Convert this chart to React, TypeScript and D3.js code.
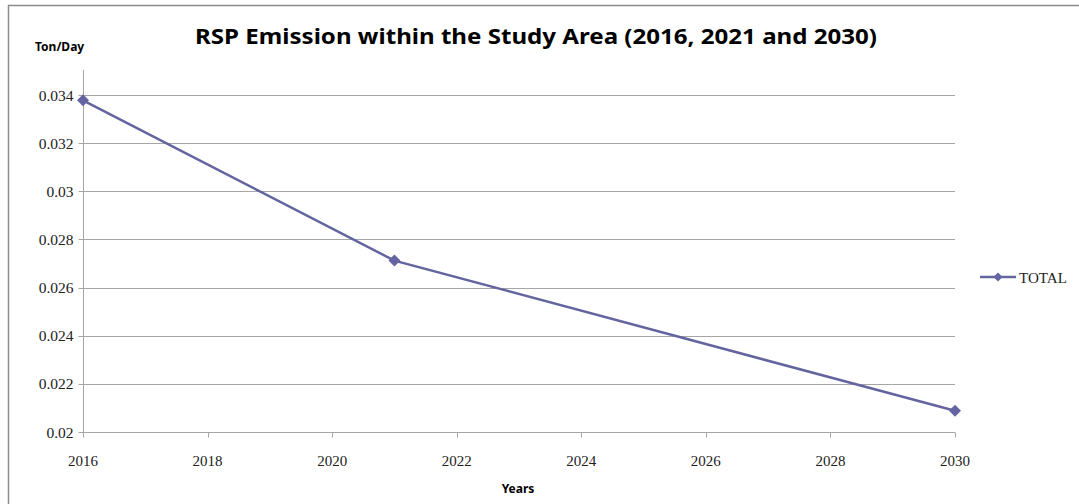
import { useEffect, useRef } from "react";
import * as d3 from "d3";

const years = [2016, 2021, 2030];
const totals = [0.03378, 0.02712, 0.02088];
const yTicks = [0.02, 0.022, 0.024, 0.026, 0.028, 0.03, 0.032, 0.034];
const xTicks = [2016, 2018, 2020, 2022, 2024, 2026, 2028, 2030];

const W = 1079;
const H = 504;
const LINE = "#6464a0";
const GRID = "#a6a6a6";

const App = () => {
  const svgRef = useRef<SVGSVGElement>(null);

  useEffect(() => {
    const svg = d3.select(svgRef.current);
    svg.selectAll("*").remove();

    const left = 83, right = 955, top = 70;
    const x = d3.scaleLinear().domain([2016, 2030]).range([left, right]);
    const y = d3.scaleLinear().domain([0.02, 0.034]).range([432, 95]);

    // outer chart frame (only top and left show in the picture)
    svg.append("path")
      .attr("d", `M8.5,${H} L8.5,5.5 L${W},5.5`)
      .attr("fill", "none")
      .attr("stroke", "#8c8c8c")
      .attr("stroke-width", 1.5);

    // grid lines
    svg.append("g")
      .selectAll("line")
      .data(yTicks.slice(1))
      .enter()
      .append("line")
      .attr("x1", left)
      .attr("x2", right)
      .attr("y1", (d) => Math.round(y(d)) + 0.5)
      .attr("y2", (d) => Math.round(y(d)) + 0.5)
      .attr("stroke", GRID);

    // y axis
    const ya = svg.append("g").attr("transform", `translate(${left + 0.5},0)`);
    ya.append("line").attr("y1", top).attr("y2", y(0.02)).attr("stroke", GRID);
    ya.selectAll("line.t")
      .data(yTicks)
      .enter()
      .append("line")
      .attr("class", "t")
      .attr("x1", -5)
      .attr("x2", 0)
      .attr("y1", (d) => Math.round(y(d)) + 0.5)
      .attr("y2", (d) => Math.round(y(d)) + 0.5)
      .attr("stroke", GRID);
    ya.selectAll("text")
      .data(yTicks)
      .enter()
      .append("text")
      .attr("x", -10)
      .attr("y", (d) => y(d) + 5.5)
      .attr("text-anchor", "end")
      .style("font-family", "'Liberation Serif', serif")
      .style("font-size", "15.5px")
      .attr("fill", "#222")
      .text((d) => String(+d.toFixed(3)));

    // x axis
    const xa = svg.append("g").attr("transform", `translate(0,${Math.round(y(0.02)) + 0.5})`);
    xa.append("line").attr("x1", left).attr("x2", right).attr("stroke", GRID);
    xa.selectAll("line.t")
      .data(xTicks)
      .enter()
      .append("line")
      .attr("class", "t")
      .attr("x1", (d) => Math.round(x(d)) + 0.5)
      .attr("x2", (d) => Math.round(x(d)) + 0.5)
      .attr("y1", 0)
      .attr("y2", 5)
      .attr("stroke", GRID);
    xa.selectAll("text")
      .data(xTicks)
      .enter()
      .append("text")
      .attr("x", (d) => x(d))
      .attr("y", 33)
      .attr("text-anchor", "middle")
      .style("font-family", "'Liberation Serif', serif")
      .style("font-size", "15.5px")
      .attr("textLength", 30)
      .attr("lengthAdjust", "spacingAndGlyphs")
      .attr("fill", "#222")
      .text((d) => d);

    // series line
    const pts = years.map((yr, i) => [yr, totals[i]] as [number, number]);
    svg.append("path")
      .datum(pts)
      .attr("fill", "none")
      .attr("stroke", LINE)
      .attr("stroke-width", 2.5)
      .attr("d", d3.line<[number, number]>().x((d) => x(d[0])).y((d) => y(d[1])));

    const diamond = d3.symbol().type(d3.symbolSquare).size(72);
    svg.selectAll("path.m")
      .data(pts)
      .enter()
      .append("path")
      .attr("class", "m")
      .attr("d", diamond)
      .attr("fill", LINE)
      .attr("transform", (d) => `translate(${x(d[0])},${y(d[1])}) rotate(45)`);

    // legend
    const lg = svg.append("g").attr("transform", "translate(980,277)");
    lg.append("line").attr("x1", 0).attr("x2", 36).attr("stroke", LINE).attr("stroke-width", 2.5);
    lg.append("path")
      .attr("d", d3.symbol().type(d3.symbolSquare).size(40))
      .attr("fill", LINE)
      .attr("transform", "translate(18,0) rotate(45)");
    lg.append("text")
      .attr("x", 39)
      .attr("y", 6)
      .style("font-family", "'Liberation Serif', serif")
      .style("font-size", "15.5px")
      .attr("textLength", 48)
      .attr("lengthAdjust", "spacingAndGlyphs")
      .attr("fill", "#222")
      .text("TOTAL");

    // titles
    svg.append("text")
      .attr("x", 536)
      .attr("y", 44)
      .attr("text-anchor", "middle")
      .style("font-family", "'Noto Sans', sans-serif")
      .style("font-weight", "bold")
      .style("font-size", "22px")
      .attr("textLength", 682)
      .attr("lengthAdjust", "spacingAndGlyphs")
      .attr("fill", "#000")
      .text("RSP Emission within the Study Area (2016, 2021 and 2030)");

    svg.append("text")
      .attr("x", 35)
      .attr("y", 51)
      .style("font-family", "'Noto Sans', sans-serif")
      .style("font-weight", "bold")
      .style("font-size", "12px")
      .attr("fill", "#000")
      .text("Ton/Day");

    svg.append("text")
      .attr("x", 518)
      .attr("y", 493)
      .attr("text-anchor", "middle")
      .style("font-family", "'Noto Sans', sans-serif")
      .style("font-weight", "bold")
      .style("font-size", "12px")
      .attr("fill", "#000")
      .text("Years");
  }, []);

  return (
    <svg
      ref={svgRef}
      width={W}
      height={H}
      style={{ position: "absolute", left: 0, top: 0, background: "#fff" }}
    />
  );
};

export default App;
